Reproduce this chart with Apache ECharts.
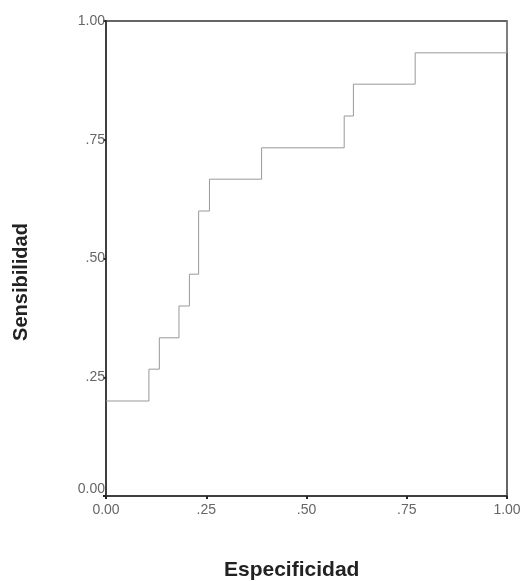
<!DOCTYPE html>
<html>
<head>
<meta charset="utf-8">
<script src="https://cdn.jsdelivr.net/npm/echarts@6/dist/echarts.min.js"></script>
<style>
  html, body { margin: 0; padding: 0; background: #fff; }
  #box { width: 527px; height: 581px; }
</style>
</head>
<body>
<div id="box"></div>
<script>
// datos de la curva (esquinas de cada escalon)
var especificidad = [0, 0.107, 0.133, 0.182, 0.208, 0.231, 0.258, 0.388, 0.594, 0.617, 0.771, 1.0];
var sensibilidad  = [0.2, 0.267, 0.333, 0.4, 0.467, 0.6, 0.667, 0.733, 0.8, 0.867, 0.933, 1.0];
var ticks = [0, 0.25, 0.5, 0.75, 1];
var tickLabels = ['0.00', '.25', '.50', '.75', '1.00'];

var puntos = especificidad.map(function (x, i) { return [x, sensibilidad[i]]; });

function etiqueta(v) {
  var i = ticks.indexOf(Math.round(v * 100) / 100);
  return i >= 0 ? tickLabels[i] : '';
}

var myChart = echarts.init(document.getElementById('box'));
var option = {
  backgroundColor: '#fff',
  animation: false,
  grid: {
    left: 106, right: 20, top: 21, bottom: 85,
    show: true, borderColor: '#333', borderWidth: 1.5, backgroundColor: 'transparent'
  },
  xAxis: {
    type: 'value', min: 0, max: 1, interval: 0.25,
    axisLine: { show: true, lineStyle: { color: '#333', width: 1.5 } },
    axisTick: { show: true, length: 3, lineStyle: { color: '#222', width: 2 } },
    axisLabel: { color: '#666', fontSize: 14, fontFamily: 'Liberation Sans', margin: 7, formatter: etiqueta },
    splitLine: { show: false }
  },
  yAxis: {
    type: 'value', min: 0, max: 1, interval: 0.25,
    axisLine: { show: true, lineStyle: { color: '#333', width: 1.5 } },
    axisTick: { show: true, length: 3, lineStyle: { color: '#222', width: 2 } },
    axisLabel: {
      color: '#666', fontSize: 14, fontFamily: 'Liberation Sans', margin: 1,
      verticalAlignMinLabel: 'bottom', formatter: etiqueta
    },
    splitLine: { show: false }
  },
  // titulos de los ejes
  graphic: [
    {
      type: 'text', left: 224, top: 560,
      style: { text: 'Especificidad', fontSize: 21, fontWeight: 'bold', fontFamily: 'Liberation Sans', fill: '#222' }
    },
    {
      type: 'text', x: 21, y: 282, rotation: Math.PI / 2,
      style: {
        text: 'Sensibilidad', fontSize: 20, fontWeight: 'bold', fontFamily: 'Liberation Sans', fill: '#222',
        align: 'center', verticalAlign: 'middle'
      }
    }
  ],
  series: [
    {
      type: 'line', step: 'end', data: puntos, symbol: 'none',
      lineStyle: { color: '#999', width: 1 }
    }
  ]
};
myChart.setOption(option);
</script>
</body>
</html>
